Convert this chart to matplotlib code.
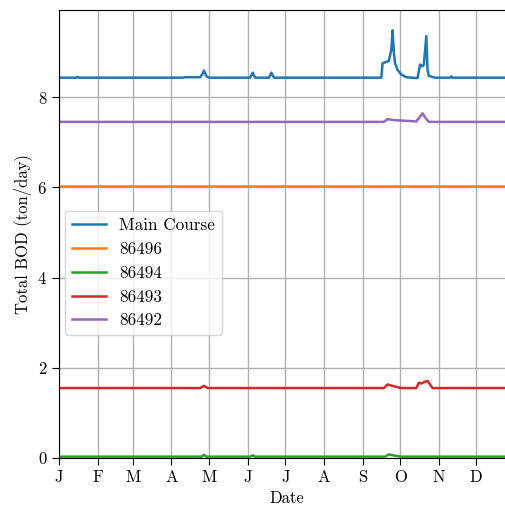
import matplotlib
matplotlib.use('Agg')
import matplotlib.pyplot as plt
import pandas as pd

plt.rcParams['font.family'] = 'serif'
plt.rcParams['font.serif'] = ['cmr10']
plt.rcParams['mathtext.fontset'] = 'cm'
plt.rcParams['axes.formatter.use_mathtext'] = True

# Main Course
main_dates = ['2019-01-01', '2019-01-15', '2019-01-16', '2019-01-17', '2019-04-10',
              '2019-04-12', '2019-04-24', '2019-04-26', '2019-04-27', '2019-04-29',
              '2019-05-01', '2019-06-03', '2019-06-05', '2019-06-07', '2019-06-18',
              '2019-06-20', '2019-06-22', '2019-09-16', '2019-09-17', '2019-09-20',
              '2019-09-22', '2019-09-24', '2019-09-25', '2019-09-26', '2019-09-27',
              '2019-09-29', '2019-10-02', '2019-10-06', '2019-10-15', '2019-10-17',
              '2019-10-19', '2019-10-20', '2019-10-22', '2019-10-23', '2019-10-24',
              '2019-10-29', '2019-11-10', '2019-11-11', '2019-11-12', '2020-01-01']
main_vals = [8.43, 8.43, 8.45, 8.43, 8.43,
             8.44, 8.44, 8.52, 8.59, 8.46,
             8.43, 8.43, 8.54, 8.43, 8.43,
             8.54, 8.43, 8.43, 8.75, 8.78,
             8.80, 9.05, 9.48, 9.00, 8.75,
             8.60, 8.50, 8.44, 8.42, 8.72,
             8.68, 8.72, 9.35, 8.60, 8.47,
             8.43, 8.43, 8.46, 8.43, 8.43]

# 86496
s86496_dates = ['2019-01-01', '2020-01-01']
s86496_vals = [6.03, 6.03]

# 86494
s86494_dates = ['2019-01-01', '2019-04-25', '2019-04-27', '2019-04-29', '2019-06-03',
                '2019-06-05', '2019-06-07', '2019-09-19', '2019-09-22', '2019-09-27',
                '2019-10-02', '2020-01-01']
s86494_vals = [0.03, 0.03, 0.07, 0.03, 0.03,
               0.06, 0.03, 0.03, 0.08, 0.05,
               0.03, 0.03]

# 86493
s86493_dates = ['2019-01-01', '2019-04-24', '2019-04-27', '2019-04-30', '2019-09-18',
                '2019-09-21', '2019-09-26', '2019-10-02', '2019-10-14', '2019-10-16',
                '2019-10-18', '2019-10-20', '2019-10-23', '2019-10-27', '2020-01-01']
s86493_vals = [1.55, 1.55, 1.60, 1.55, 1.55,
               1.63, 1.59, 1.55, 1.55, 1.67,
               1.65, 1.68, 1.71, 1.55, 1.55]

# 86492
s86492_dates = ['2019-01-01', '2019-09-18', '2019-09-21', '2019-09-26', '2019-10-14',
                '2019-10-16', '2019-10-19', '2019-10-21', '2019-10-24', '2020-01-01']
s86492_vals = [7.45, 7.45, 7.51, 7.49, 7.46,
               7.53, 7.64, 7.55, 7.45, 7.45]

month_labels = ['J', 'F', 'M', 'A', 'M', 'J', 'J', 'A', 'S', 'O', 'N', 'D']

series = [
    ('Main Course', main_dates, main_vals),
    ('86496', s86496_dates, s86496_vals),
    ('86494', s86494_dates, s86494_vals),
    ('86493', s86493_dates, s86493_vals),
    ('86492', s86492_dates, s86492_vals),
]

fig = plt.figure(figsize=(5.05, 5.08), dpi=100)
ax = fig.add_axes([59 / 505, 50 / 508, 456 / 505, 448 / 508])

for name, d, v in series:
    ax.plot(pd.to_datetime(d), v, label=name, lw=1.8)

ax.set_xlim(pd.Timestamp('2019-01-01'), pd.Timestamp('2020-01-01'))
ax.set_ylim(0, 9.93)
ax.set_yticks([0, 2, 4, 6, 8])

month_ticks = pd.date_range('2019-01-01', periods=12, freq='MS')
ax.set_xticks(month_ticks)
ax.set_xticklabels(month_labels)
ax.tick_params(labelsize=12, length=5)

ax.grid(True, color='#b0b0b0', lw=1.0)
ax.set_xlabel('Date', fontsize=12)
ax.set_ylabel('Total BOD (ton/day)', fontsize=12)

ax.legend(loc='lower left', bbox_to_anchor=(-0.006, 0.255), fontsize=12.3)

fig.savefig('out.png', dpi=100)
